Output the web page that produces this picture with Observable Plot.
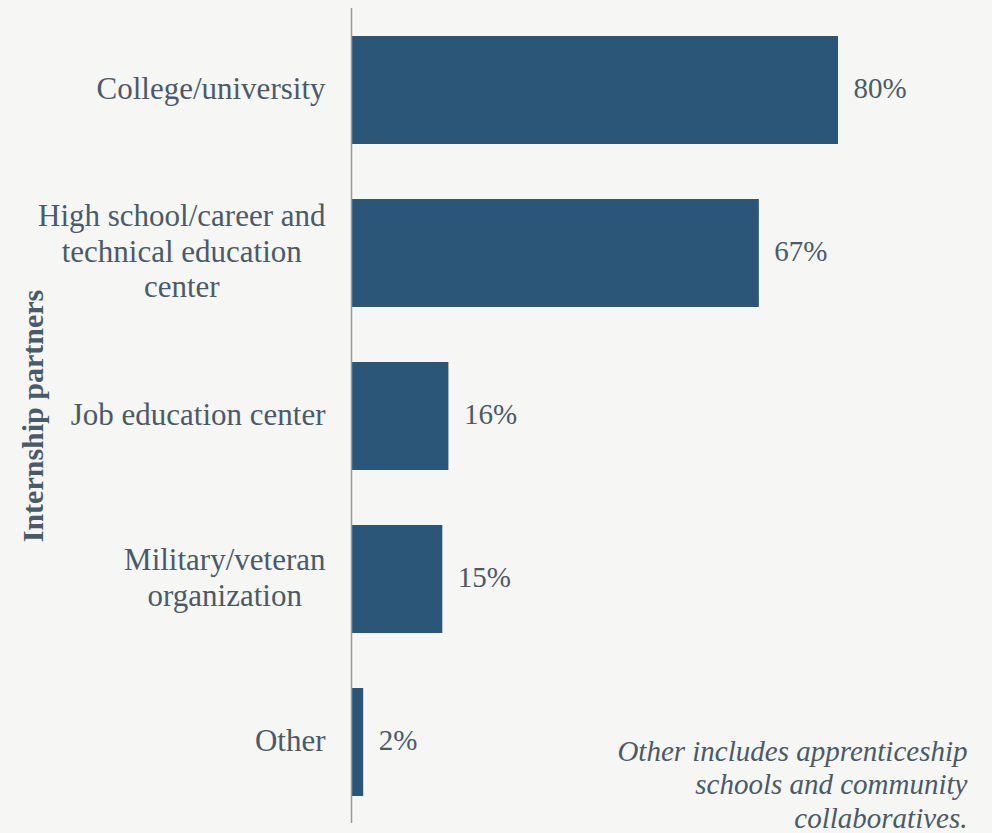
<!DOCTYPE html>
<html>
<head>
<meta charset="utf-8">
<script src="https://cdn.jsdelivr.net/npm/d3@7"></script>
<script src="https://cdn.jsdelivr.net/npm/@observablehq/plot@0.6"></script>
<style>
  html, body { margin: 0; padding: 0; background: #f6f6f4; }
  #chart svg { display: block; }
</style>
</head>
<body>
<div id="chart"></div>
<script>
const categories = [
  "College/university",
  "High school/career and technical education center",
  "Job education center",
  "Military/veteran organization",
  "Other"
];
const labelLines = [
  ["College/university"],
  ["High school/career and", "technical education", "center"],
  ["Job education center"],
  ["Military/veteran", "organization"],
  ["Other"]
];
const values = [80, 67, 16, 15, 2];
const axisTitle = "Internship partners";
const captionLines = ["Other includes apprenticeship", "schools and community", "collaboratives."];

const data = categories.map((c, i) => ({category: c, value: values[i]}));

const FONT = "'Liberation Serif', serif";
const LABEL_SIZE = 31;
const TEXT_COLOR = "#4b5a69";
const BAR_COLOR = "#2c5677";

const ctx = document.createElement("canvas").getContext("2d");
ctx.font = `${LABEL_SIZE}px ${FONT}`;
function blockWidth(lines) { return Math.max(...lines.map(l => ctx.measureText(l).width)); }

const tickMarks = categories.map((c, i) => {
  const w = blockWidth(labelLines[i]);
  return Plot.text([c], {
    y: d => d,
    text: () => labelLines[i].join("\n"),
    frameAnchor: "left",
    textAnchor: "middle",
    dx: -26 - w / 2,
    dy: -3,
    lineHeight: 1.145,
    fill: TEXT_COLOR,
    fontSize: LABEL_SIZE
  });
});

const chart = Plot.plot({
  width: 992,
  height: 833,
  marginLeft: 351,
  marginRight: 0,
  marginTop: 8,
  marginBottom: 10,
  style: {background: "#f6f6f4", fontFamily: FONT, color: TEXT_COLOR},
  x: {domain: [0, 105.3], axis: null},
  y: {domain: categories, axis: null, paddingInner: 0.338, paddingOuter: 0.165},
  marks: [
    Plot.barX(data, {x: "value", y: "category", fill: BAR_COLOR}),
    Plot.ruleX([0], {stroke: "#999999", strokeWidth: 1.5}),
    Plot.text(data, {
      x: "value", y: "category", text: d => d.value + "%",
      dx: 15, dy: -2, textAnchor: "start", fill: TEXT_COLOR, fontSize: 29
    }),
    ...tickMarks,
    Plot.text([axisTitle], {
      text: d => d,
      frameAnchor: "left",
      textAnchor: "middle",
      rotate: -90,
      dx: -318,
      fontWeight: "bold",
      fontSize: 30,
      fill: TEXT_COLOR
    }),
    Plot.text([captionLines.join("\n")], {
      text: d => d,
      frameAnchor: "bottom-right",
      textAnchor: "end",
      lineAnchor: "bottom",
      dx: -25,
      dy: 4,
      lineHeight: 1.14,
      fontStyle: "italic",
      fontSize: 29,
      fill: TEXT_COLOR
    })
  ]
});
document.getElementById("chart").appendChild(chart);
</script>
</body>
</html>
